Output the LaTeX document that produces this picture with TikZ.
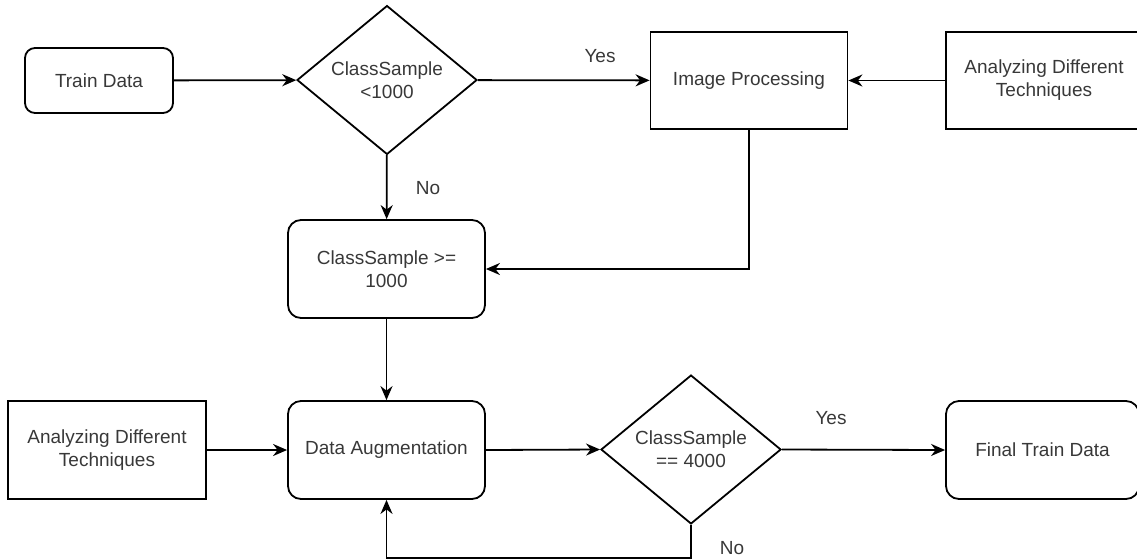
\documentclass[tikz,border=0pt]{standalone}
\usepackage{fontspec}
\setmainfont{Liberation Sans}
\usetikzlibrary{shapes.geometric,arrows.meta}
\begin{document}
\begin{tikzpicture}[x=1pt,y=-1pt,
  every node/.style={font=\fontsize{19}{23}\selectfont, text=black!78, align=center},
  base/.style={draw=black, line width=1.8pt, inner sep=0pt},
  roundbox/.style={base, rounded corners=13pt, minimum width=197pt, minimum height=98pt},
  plainbox/.style={base, minimum width=197pt, minimum height=97pt},
  decision/.style={base, diamond, minimum width=180pt, minimum height=147pt},
  lbl/.style={inner sep=0pt},
  arr/.style={draw=black, line width=1.8pt, -{Stealth[length=14pt,width=12pt,inset=4.5pt]}}
]
\useasboundingbox (0,0) rectangle (1137,558);

% upper row
\node[base, rounded corners=10pt, minimum width=148pt, minimum height=65pt] (train) at (99,80.5) {Train Data};
\node[decision] (d1) at (387,80) {ClassSample\\<1000};
\node[plainbox] (imgproc) at (749,80.5) {Image Processing};
\node[plainbox, minimum width=196pt] (techA) at (1044,80.5) {Analyzing Different\\Techniques};

% middle
\node[roundbox] (cs) at (386.5,269) {ClassSample >=\\1000};

% lower row
\node[plainbox, minimum width=198pt, minimum height=98pt] (techB) at (107,450) {Analyzing Different\\Techniques};
\node[roundbox] (aug) at (386.5,450) {Data Augmentation};
\node[decision] (d2) at (691,449.5) {ClassSample\\== 4000};
\node[roundbox, minimum width=193pt] (final) at (1042.5,450) {Final Train Data};

% branch labels
\node[lbl] (yes1) at (600,56) {Yes};
\node[lbl] (no1) at (428,188) {No};
\node[lbl] (yes2) at (831,418) {Yes};
\node[lbl] (no2) at (732,548) {No};

% connectors
\draw[arr] (train) -- (d1);
\draw[arr] (d1) -- (imgproc);
\draw[arr] (techA) -- (imgproc);
\draw[arr] (d1) -- (cs);
\draw[arr] (imgproc.south) |- (cs.east);
\draw[arr] (cs) -- (aug);
\draw[arr] (techB) -- (aug);
\draw[arr] (aug.east) -- (d2.west);
\draw[arr] (d2.east) -- (final.west);
\draw[arr] (d2.south) -- ++(0,33) -| (aug.south);
\end{tikzpicture}
\end{document}
